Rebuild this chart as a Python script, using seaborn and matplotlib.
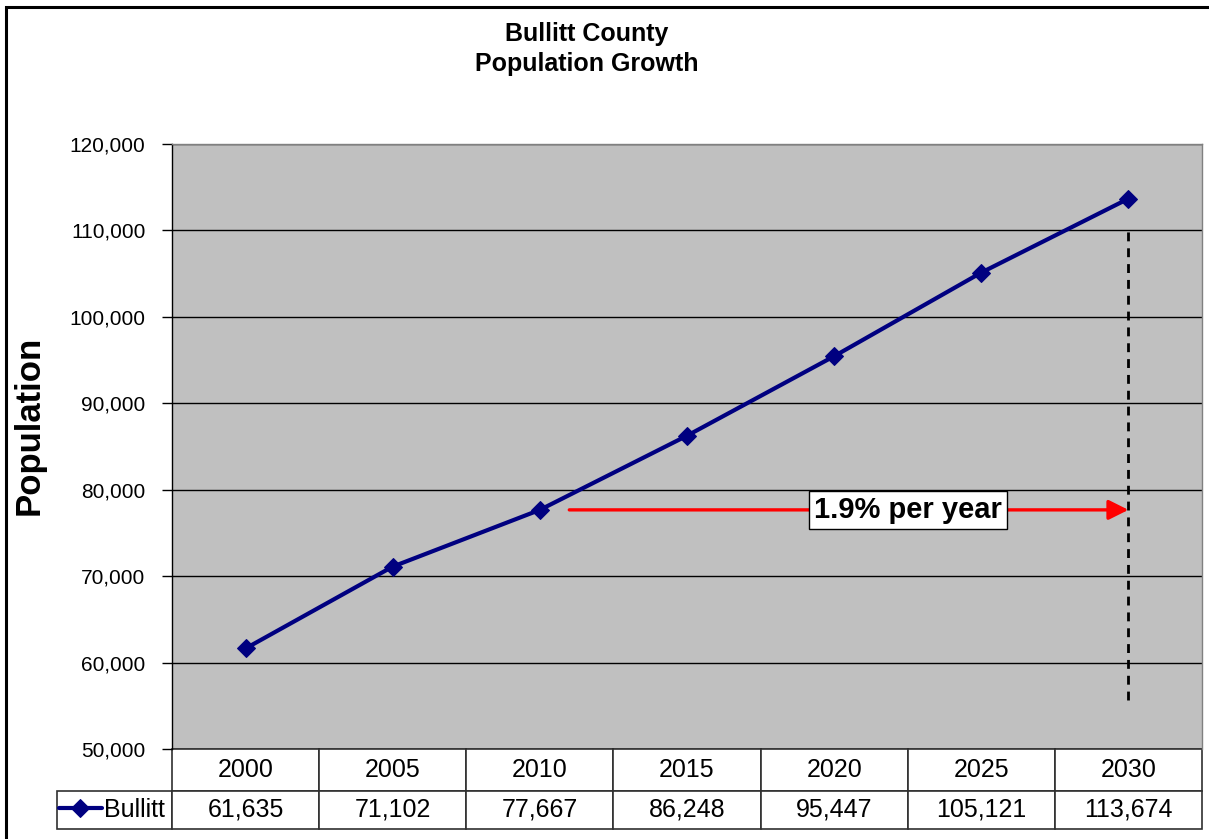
import numpy as np
import pandas as pd
import matplotlib.pyplot as plt
import matplotlib.patches as mpatches
import seaborn as sns

# ---- data ----
years = ['2000', '2005', '2010', '2015', '2020', '2025', '2030']
population = [61635, 71102, 77667, 86248, 95447, 105121, 113674]
series_name = 'Bullitt'
y_ticks = [50000, 60000, 70000, 80000, 90000, 100000, 110000, 120000]
chart_title = 'Bullitt County\nPopulation Growth'
growth_label = '1.9% per year'

# annotation helpers (data units)
arrow_start = 2.2          # just right of the 2010 point
label_x = 4.5
dash_bottom = 55700
dash_top = 110000

NAVY = '#000080'
PLOT_BG = '#C0C0C0'

df = pd.DataFrame({'Year': years, 'Population': population})

sns.set_style('white')
plt.rcParams['font.family'] = ['Liberation Sans', 'DejaVu Sans']
plt.rcParams['text.color'] = 'black'
plt.rcParams['axes.labelcolor'] = 'black'

fig = plt.figure(figsize=(12.09, 8.39), dpi=100)
ax = fig.add_axes([172 / 1209, 1 - 749 / 839, 1030 / 1209, 605 / 839])
ax.set_facecolor(PLOT_BG)

sns.lineplot(data=df, x='Year', y='Population', ax=ax, sort=False,
             color=NAVY, lw=3, marker='D', markersize=9,
             markeredgecolor=NAVY, markerfacecolor=NAVY, label=series_name)

ax.set_xlim(-0.5, len(years) - 0.5)
ax.set_ylim(y_ticks[0], y_ticks[-1])
ax.set_yticks(y_ticks)
ax.set_yticklabels([f'{v:,}' for v in y_ticks])
ax.set_xticks([])
ax.set_xlabel('')
ax.yaxis.grid(True, color='black', lw=1)
ax.set_axisbelow(True)
ax.tick_params(axis='y', direction='out', length=7, width=1, pad=12,
               labelsize=15, colors='black', left=True)

ax.set_ylabel('Population', fontsize=25, fontweight='bold')
ax.yaxis.set_label_coords((46 - 172) / 1030, (749 - 425) / 605)

for side in ['top', 'right']:
    ax.spines[side].set_color('#808080')
    ax.spines[side].set_linewidth(1)
ax.spines['left'].set_color('black')
ax.spines['left'].set_linewidth(1)
ax.spines['bottom'].set_visible(False)

# growth arrow + dashed marker at 2030
last = len(years) - 1
ax.annotate('', xy=(last, population[2]), xytext=(arrow_start, population[2]),
            arrowprops=dict(arrowstyle='-|>', color='red', lw=2.4,
                            mutation_scale=30, shrinkA=0, shrinkB=0))
ax.vlines(last, dash_bottom, dash_top, colors='black', lw=2,
          linestyles=(0, (3.2, 2.5)))
ax.text(label_x, population[2], growth_label, ha='center', va='center',
        fontsize=21, fontweight='bold',
        bbox=dict(boxstyle='square,pad=0.18', fc='white', ec='black', lw=1),
        zorder=5)

# data table under the axis: first column holds the legend key
tbl = ax.table(cellText=[[''] + [f'{v:,}' for v in population]],
               colLabels=[''] + years, cellLoc='center',
               bbox=[-115 / 1030, -80 / 605, 1 + 115 / 1030, 80 / 605])
tbl.auto_set_font_size(False)
tbl.set_fontsize(18)
for (r, c), cell in tbl.get_celld().items():
    cell.set_width(115 if c == 0 else 1030 / len(years))
    cell.set_height(42 if r == 0 else 38)
    cell.set_edgecolor('#303030')
    cell.set_linewidth(1.2)
    cell.get_text().set_color('black')
tbl[0, 0].visible_edges = ''

ax.legend(loc='center left', bbox_to_anchor=((59 - 172) / 1030, -61 / 605),
          frameon=False, fontsize=18, handlelength=1.7, handletextpad=0.1,
          borderpad=0, borderaxespad=0)

fig.text(587 / 1209, 1 - 49 / 839, chart_title, ha='center', va='center',
         fontsize=18, fontweight='bold', linespacing=1.3)

# chart frame (left/top edges visible in the source crop)
fig.add_artist(mpatches.Rectangle((6 / 1209, -0.05), 1.2, 1.05 - 7 / 839,
                                  transform=fig.transFigure, fill=False,
                                  ec='black', lw=2.2))

fig.savefig('out.png', dpi=100)
